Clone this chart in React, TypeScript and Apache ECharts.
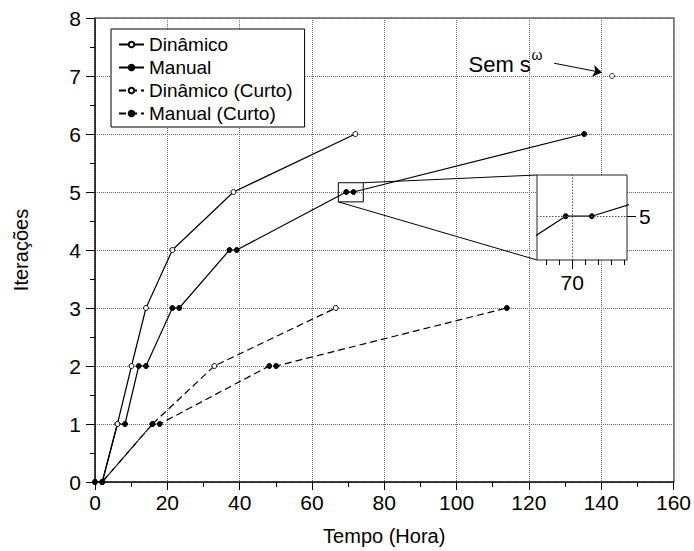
import React, { useEffect, useRef } from "react";
import * as echarts from "echarts";

const FONT = "Liberation Sans, Arial, Helvetica, sans-serif";

// Series data [Tempo (Hora), Iterações]
const dinamico: number[][] = [[2, 0], [6.2, 1], [10.1, 2], [14.1, 3], [21.4, 4], [38.3, 5], [72, 6]];
const manual: number[][] = [[0, 0], [2, 0], [6.2, 1], [8.3, 1], [12.1, 2], [14.1, 2], [21.4, 3], [23.3, 3], [37.2, 4], [39.2, 4], [69.5, 5], [71.5, 5], [135.3, 6]];
const dinamicoCurto: number[][] = [[2, 0], [15.9, 1], [33, 2], [66.6, 3]];
const manualCurto: number[][] = [[0, 0], [2, 0], [15.9, 1], [17.9, 1], [48.2, 2], [50.1, 2], [113.9, 3]];
const semOmega: number[][] = [[143, 7]];

const seriesNames = ["Dinâmico", "Manual", "Dinâmico (Curto)", "Manual (Curto)"];

// Zoom box / inset ranges
const insetX = [67.3, 74.2];
const insetY = [4.83, 5.16];
const insetMinorTicks = [68, 69, 70, 71, 72, 73, 74];
const insetMajorTicks = [70];
const insetYTicks = [5];

// Annotation
const annotText = "Sem s";
const annotSup = "ω";
const annotTextPos = [103.3, 7.2];
const arrowFrom = [127, 7.22];
const arrowTo = [140.2, 7.06];

export default function App() {
  const ref = useRef<HTMLDivElement>(null);
  useEffect(() => {
    if (!ref.current) return;
    const chart = echarts.init(ref.current, null, { renderer: "svg" });
    const black = "#000";
    const gridStyle = { color: "#666", type: "dotted", width: 1 };
    const openItem = { color: "#fff", borderColor: black, borderWidth: 1 };
    const fillItem = { color: black, borderColor: black, borderWidth: 1 };
    const dash = [7, 4];
    const sym = 5;
    const frameAxis = {
      axisLine: { show: true, onZero: false, lineStyle: { color: "#666", width: 1.5 } },
      axisTick: { show: false },
      axisLabel: { show: false },
      splitLine: { show: false },
    };
    const option: any = {
      animation: false,
      backgroundColor: "#fff",
      textStyle: { fontFamily: FONT, color: black },
      grid: [
        { left: 95, right: 18, top: 18, bottom: 69, show: false },
        { left: 537, top: 175, width: 90, height: 85, show: true, borderColor: "#222", borderWidth: 1, backgroundColor: "#fff", z: 5 },
      ],
      legend: {
        data: seriesNames,
        orient: "vertical",
        left: 111,
        top: 29,
        itemWidth: 25,
        itemHeight: 7,
        itemGap: 4,
        padding: [6, 12, 4, 7],
        borderColor: black,
        borderWidth: 1,
        backgroundColor: "#fff",
        textStyle: { fontSize: 19, color: black, fontFamily: FONT },
        z: 10,
      },
      xAxis: [
        {
          gridIndex: 0, type: "value", min: 0, max: 160, interval: 20, position: "bottom",
          name: "Tempo (Hora)", nameLocation: "middle", nameGap: 44,
          nameTextStyle: { fontSize: 20, color: black, fontFamily: FONT },
          axisLine: { onZero: false, lineStyle: { color: black, width: 1.5 } },
          axisTick: { show: true, inside: false, length: 8, lineStyle: { color: black } },
          minorTick: { show: true, splitNumber: 2, length: 5, lineStyle: { color: black } },
          axisLabel: { fontSize: 21, color: black, margin: 10, fontFamily: FONT },
          splitLine: { show: true, lineStyle: gridStyle },
        },
        {
          gridIndex: 1, type: "value", min: insetX[0], max: insetX[1], z: 6, position: "bottom",
          axisLine: { show: false },
          axisTick: { show: true, inside: false, length: 5, customValues: insetMinorTicks, lineStyle: { color: black } },
          axisLabel: { show: false },
          splitLine: { show: false },
        },
        {
          gridIndex: 1, type: "value", min: insetX[0], max: insetX[1], z: 6, position: "bottom", offset: 0,
          axisLine: { show: false },
          axisTick: { show: true, inside: false, length: 9, customValues: insetMajorTicks, lineStyle: { color: black } },
          axisLabel: { show: true, customValues: insetMajorTicks, fontSize: 21, color: black, margin: 12, fontFamily: FONT },
          splitLine: { show: false },
        },
        { gridIndex: 0, type: "value", min: 0, max: 160, position: "top", ...frameAxis },
      ],
      yAxis: [
        {
          gridIndex: 0, type: "value", min: 0, max: 8, interval: 1, position: "left",
          name: "Iterações", nameLocation: "middle", nameGap: 64,
          nameTextStyle: { fontSize: 20, color: black, fontFamily: FONT },
          axisLine: { show: true, onZero: false, lineStyle: { color: black, width: 1.5 } },
          axisTick: { show: true, inside: false, length: 9, lineStyle: { color: black } },
          minorTick: { show: true, splitNumber: 2, length: 5, lineStyle: { color: black } },
          axisLabel: { fontSize: 21, color: black, margin: 14, fontFamily: FONT },
          splitLine: { show: true, lineStyle: gridStyle },
        },
        {
          gridIndex: 1, type: "value", min: insetY[0], max: insetY[1], position: "right", z: 6,
          axisLine: { show: false },
          axisTick: { show: true, inside: false, length: 9, customValues: insetYTicks, lineStyle: { color: black } },
          axisLabel: { show: true, customValues: insetYTicks, fontSize: 21, color: black, margin: 12, fontFamily: FONT },
          splitLine: { show: false },
        },
        { gridIndex: 0, type: "value", min: 0, max: 8, position: "right", ...frameAxis },
      ],
      series: [
        {
          name: seriesNames[0], type: "line", data: dinamico, xAxisIndex: 0, yAxisIndex: 0,
          symbol: "circle", symbolSize: sym, itemStyle: openItem, lineStyle: { color: black, width: 1.2 }, z: 4,
        },
        {
          name: seriesNames[1], type: "line", data: manual, xAxisIndex: 0, yAxisIndex: 0,
          symbol: "circle", symbolSize: sym, itemStyle: fillItem, lineStyle: { color: black, width: 1.2 }, z: 3,
          markArea: {
            silent: true,
            itemStyle: { color: "rgba(0,0,0,0)", borderColor: black, borderWidth: 1 },
            data: [[{ coord: [insetX[0], insetY[1]] }, { coord: [insetX[1], insetY[0]] }]],
          },
        },
        {
          name: seriesNames[2], type: "line", data: dinamicoCurto, xAxisIndex: 0, yAxisIndex: 0,
          symbol: "circle", symbolSize: sym, itemStyle: openItem, lineStyle: { color: black, width: 1.2, type: dash }, z: 3,
        },
        {
          name: seriesNames[3], type: "line", data: manualCurto, xAxisIndex: 0, yAxisIndex: 0,
          symbol: "circle", symbolSize: sym, itemStyle: fillItem, lineStyle: { color: black, width: 1.2, type: dash }, z: 4,
        },
        {
          name: "sem", type: "scatter", data: semOmega, xAxisIndex: 0, yAxisIndex: 0,
          symbol: "circle", symbolSize: sym, itemStyle: openItem, z: 4,
          markLine: {
            silent: true, symbol: ["none", "arrow"], symbolSize: 9,
            lineStyle: { color: black, width: 1, type: "solid" },
            label: { show: false },
            data: [[{ coord: arrowFrom }, { coord: arrowTo }]],
          },
        },
        {
          name: "inset", type: "line", data: manual, xAxisIndex: 1, yAxisIndex: 1,
          symbol: "circle", symbolSize: sym, itemStyle: fillItem, lineStyle: { color: black, width: 1.2 }, z: 7,
        },
      ],
    };
    chart.setOption(option);

    const g1 = { gridIndex: 1 };
    const tp = chart.convertToPixel({ gridIndex: 0 }, annotTextPos) as number[];
    const b1 = chart.convertToPixel({ gridIndex: 0 }, [insetX[1], insetY[1]]) as number[];
    const b2 = chart.convertToPixel({ gridIndex: 0 }, [insetX[0], insetY[0]]) as number[];
    const i1 = chart.convertToPixel(g1, [insetX[0], insetY[1]]) as number[];
    const i2 = chart.convertToPixel(g1, [insetX[0], insetY[0]]) as number[];
    const v0 = chart.convertToPixel(g1, [insetMajorTicks[0], insetY[0]]) as number[];
    const v1 = chart.convertToPixel(g1, [insetMajorTicks[0], insetY[1]]) as number[];
    const h0 = chart.convertToPixel(g1, [insetX[0], insetYTicks[0]]) as number[];
    const h1 = chart.convertToPixel(g1, [insetX[1], insetYTicks[0]]) as number[];
    const dotted = { stroke: "#555", lineWidth: 1, lineDash: [1.5, 1.5] };
    const vx = Math.round(v0[0]) + 0.5;
    const hy = Math.round(h0[1]) + 0.5;
    chart.setOption({
      graphic: [
        { type: "line", shape: { x1: vx, y1: v0[1], x2: vx, y2: v1[1] }, style: dotted, z: 21 },
        { type: "line", shape: { x1: h0[0], y1: hy, x2: h1[0], y2: hy }, style: dotted, z: 21 },
        { type: "text", x: tp[0], y: tp[1], style: { text: annotText, fontSize: 22, fontFamily: FONT, fill: black, textVerticalAlign: "middle" }, z: 20 },
        { type: "text", x: tp[0] + 63, y: tp[1] - 9, style: { text: annotSup, fontSize: 14, fontFamily: FONT, fill: black, textVerticalAlign: "middle" }, z: 20 },
        { type: "line", shape: { x1: b1[0], y1: b1[1], x2: i1[0], y2: i1[1] }, style: { stroke: black, lineWidth: 1 }, z: 20 },
        { type: "line", shape: { x1: b2[0], y1: b2[1], x2: i2[0], y2: i2[1] }, style: { stroke: black, lineWidth: 1 }, z: 20 },
      ],
    });
    return () => chart.dispose();
  }, []);
  return <div ref={ref} style={{ position: "fixed", left: 0, top: 0, width: 694, height: 551 }} />;
}
